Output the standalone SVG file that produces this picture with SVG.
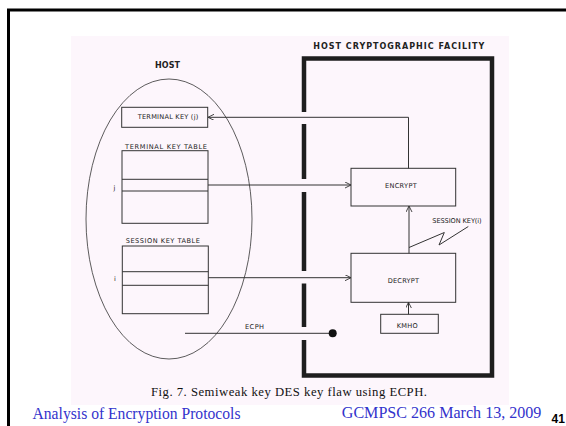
<svg xmlns="http://www.w3.org/2000/svg" width="566" height="426" viewBox="0 0 566 426">
<defs>
<style>
.ln{stroke:#333;stroke-width:1;fill:none}
.bx{stroke:#333;stroke-width:1;fill:none}
.wall{stroke:#1e1e1e;stroke-width:4.5;fill:none}
.t{font-family:"DejaVu Sans",sans-serif;font-size:6.6px;fill:#222}
.tb{font-family:"DejaVu Sans",sans-serif;font-size:8px;font-weight:bold;fill:#222}
.cap{font-family:"Liberation Serif",serif;font-size:12.7px;fill:#111}
.ft{font-family:"Liberation Serif",serif;font-size:15.8px;fill:#3333cc}
</style>
<marker id="ah" markerWidth="7" markerHeight="7" refX="6" refY="3" orient="auto" markerUnits="userSpaceOnUse">
<path d="M0,0 L6,3 L0,6" fill="none" stroke="#333" stroke-width="0.9"/>
</marker>
</defs>
<rect x="0" y="0" width="566" height="426" fill="#fff"/>
<g id="frame">
<path d="M8.5,426 V10 H566" fill="none" stroke="#000" stroke-width="3"/>
</g>
<rect x="71" y="36" width="438" height="369" fill="#fdf6fc"/>
<g id="facility">
<text class="tb" x="313.3" y="48.7" textLength="171" lengthAdjust="spacing">HOST CRYPTOGRAPHIC FACILITY</text>
<path class="wall" d="M304,112 V58.5 H492 V375.5 H304 V340"/>
<path class="wall" d="M304,124 V179 M304,192 V271 M304,283.5 V327"/>
</g>
<g id="host">
<ellipse cx="169" cy="219" rx="83" ry="140" fill="none" stroke="#333" stroke-width="0.8"/>
<text class="tb" x="155" y="67.9" textLength="25" lengthAdjust="spacing">HOST</text>
</g>
<g id="terminal-key-j">
<rect class="bx" x="121.7" y="107.3" width="86" height="20"/>
<text class="t" x="137.7" y="119.3" textLength="60.6" lengthAdjust="spacing">TERMINAL KEY (j)</text>
</g>
<g id="terminal-key-table">
<text class="t" x="125" y="149.2" textLength="82" lengthAdjust="spacing">TERMINAL KEY TABLE</text>
<rect class="bx" x="122" y="150.7" width="86" height="72.6"/>
<path class="ln" d="M122,179.3 H208 M122,191 H208"/>
<text class="t" x="113.5" y="189.5">j</text>
</g>
<g id="session-key-table">
<text class="t" x="125.7" y="242.7" textLength="74.3" lengthAdjust="spacing">SESSION KEY TABLE</text>
<rect class="bx" x="122.3" y="246" width="86" height="67.7"/>
<path class="ln" d="M122.3,271.7 H208.3 M122.3,285.3 H208.3"/>
<text class="t" x="114" y="281">i</text>
</g>
<g id="encrypt">
<rect class="bx" x="351" y="168.3" width="104.7" height="37.7"/>
<text class="t" x="385" y="187.7" textLength="31.7" lengthAdjust="spacing">ENCRYPT</text>
</g>
<g id="decrypt">
<rect class="bx" x="351" y="253.3" width="104.7" height="49"/>
<text class="t" x="387.7" y="282.7" textLength="31.3" lengthAdjust="spacing">DECRYPT</text>
</g>
<g id="kmho">
<rect class="bx" x="380.7" y="314.3" width="57.6" height="19"/>
<text class="t" x="396.7" y="327.7" textLength="21" lengthAdjust="spacing">KMHO</text>
</g>
<g id="connectors">
<path class="ln" d="M408.5,168.3 V117.3 H208" marker-end="url(#ah)"/>
<path class="ln" d="M208,185 H351" marker-end="url(#ah)"/>
<path class="ln" d="M208.3,277.7 H351" marker-end="url(#ah)"/>
<path class="ln" d="M409,253.3 V206" marker-end="url(#ah)"/>
<path class="ln" d="M408.5,314.3 V302.3" marker-end="url(#ah)"/>
<polyline class="ln" points="409,247.5 444.3,232.5 439,245 468.3,226.5"/>
<text class="t" x="432.3" y="222.9" textLength="49.4" lengthAdjust="spacing">SESSION KEY(i)</text>
<path class="ln" d="M185,333.3 H332.7"/>
<circle cx="332.7" cy="333.3" r="4" fill="#111"/>
<text class="t" x="245" y="329.2" textLength="19" lengthAdjust="spacing">ECPH</text>
</g>
<g id="caption">
<text class="cap" x="151" y="395.7" textLength="276" lengthAdjust="spacing">Fig. 7. Semiweak key DES key flaw using ECPH.</text>
</g>
<g id="footer">
<text class="ft" x="32.5" y="419.3" textLength="208" lengthAdjust="spacingAndGlyphs">Analysis of Encryption Protocols</text>
<text class="ft" x="341.8" y="418.3" textLength="199.6" lengthAdjust="spacingAndGlyphs">GCMPSC 266  March 13, 2009</text>
<text x="551.5" y="423" font-family="Liberation Sans, sans-serif" font-size="12" font-weight="bold" fill="#000">41</text>
</g>
</svg>
